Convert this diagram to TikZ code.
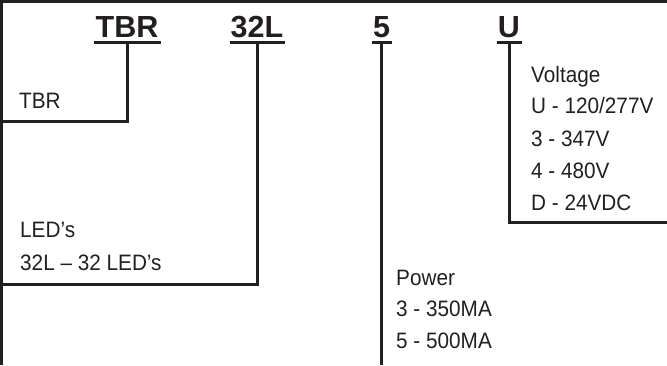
\documentclass[tikz,border=0pt]{standalone}
\usepackage{fontspec}
\setmainfont{Liberation Sans}
\newfontfamily\descfont{Liberation Sans}[FakeStretch=0.93]
\definecolor{ink}{HTML}{231F20}
\tikzset{
  frame/.style={draw=ink, line width=3pt},
  conn/.style={draw=ink, line width=3pt},
  code/.style={inner sep=0pt, anchor=base, text=ink, font=\fontsize{30.5}{30}\selectfont\bfseries},
  desc/.style={inner sep=0pt, anchor=base west, text=ink, font=\descfont\fontsize{22.3}{24}\selectfont},
}
\begin{document}
\begin{tikzpicture}[x=1pt,y=-1pt]
\useasboundingbox (0,0) rectangle (667,365);
% frame
\draw[frame] (0,1.5) -- (667,1.5);
\draw[frame] (1.5,0) -- (1.5,365);
% code nodes
\node[code] (cTBR) at (127,37.5) {TBR};
\node[code] (c32L) at (257,37.5) {32L};
\node[code] (c5) at (381.5,37.5) {5};
\node[code] (cU) at (509,37.5) {U};
% underlines
\foreach \n in {cTBR,c32L,c5,cU}{
  \draw[conn,line width=3.2pt] ([yshift=-5.3pt,xshift=-1pt]\n.base west) -- ([yshift=-5.3pt,xshift=2pt]\n.base east);
}
% connector coordinates
\coordinate (tTBR) at (127,43);
\coordinate (t32L) at (257,43);
\coordinate (t5) at (381.5,43);
\coordinate (tU) at (509,43);
\coordinate (eTBR) at (0,121);
\coordinate (e32L) at (0,284);
\coordinate (e5) at (381.5,365);
\coordinate (eU) at (667,222);
\draw[conn] (tTBR) |- (eTBR);
\draw[conn] (t32L) |- (e32L);
\draw[conn] (t5) -- (e5);
\draw[conn] (tU) |- (eU);
% descriptions
\node[desc] (dTBR) at (19,108) {TBR};
\node[desc] (dLED1) at (20,237) {LED’s};
\node[desc] (dLED2) at (20,270) {32L – 32 LED’s};
\node[desc] (dV1) at (531,82.5) {Voltage};
\node[desc] (dV2) at (531,113.5) {U - 120/277V};
\node[desc] (dV3) at (531,146.5) {3 - 347V};
\node[desc] (dV4) at (531,178.25) {4 - 480V};
\node[desc] (dV5) at (531,210) {D - 24VDC};
\node[desc] (dP1) at (396,285) {Power};
\node[desc] (dP2) at (396,316.75) {3 - 350MA};
\node[desc] (dP3) at (396,348.5) {5 - 500MA};
\end{tikzpicture}
\end{document}
